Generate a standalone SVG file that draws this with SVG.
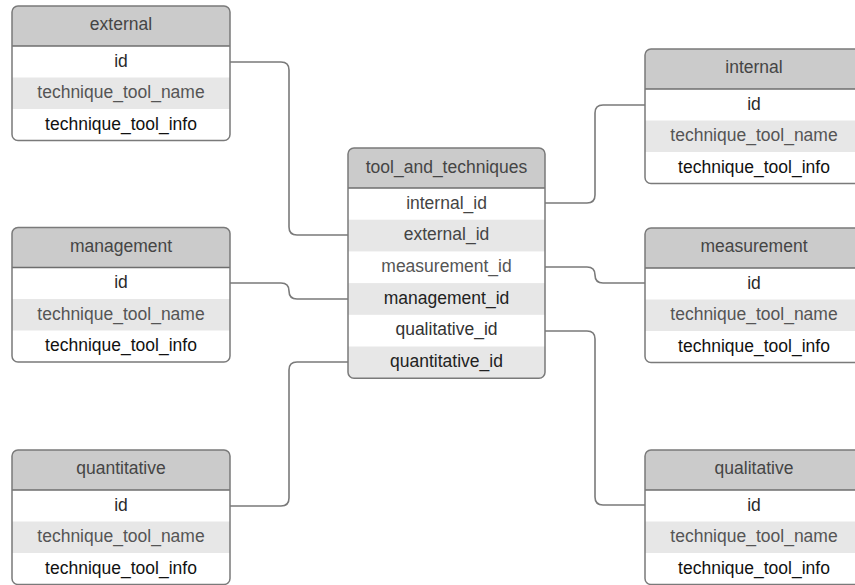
<svg xmlns="http://www.w3.org/2000/svg" width="855" height="585" viewBox="0 0 855 585">
  <style>
    text { font-family: "Liberation Sans", Arial, sans-serif; font-size: 17.5px; text-anchor: middle; }
    .frame { fill: none; stroke: #7a7a7a; stroke-width: 1.5; }
    .body { fill: #ffffff; }
    .head { fill: #cbcbcb; }
    .stripe { fill: #e7e7e7; }
    .sep { stroke: #6e6e6e; stroke-width: 1.5; }
    .title { fill: #454545; }
    .f-id { fill: #2a2a2a; }
    .f-name { fill: #555555; }
    .f-info { fill: #111111; }
    .link { fill: none; stroke: #7a7a7a; stroke-width: 1.6; }
  </style>
  <defs>
    <!-- generic 3-row table, 218 wide -->
    <g id="tbl3">
      <rect class="body" x="0" y="0" width="218" height="134.5" rx="6"/>
      <path class="head" d="M0,40 V6 A6,6 0 0 1 6,0 H212 A6,6 0 0 1 218,6 V40 Z"/>
      <rect class="stripe" x="0" y="71.5" width="218" height="31.5"/>
      <line class="sep" x1="0" y1="40" x2="218" y2="40"/>
      <rect class="frame" x="0" y="0" width="218" height="134.5" rx="6"/>
      <text class="f-id" x="109" y="60.5">id</text>
      <text class="f-name" x="109" y="92">technique_tool_name</text>
      <text class="f-info" x="109" y="123.5">technique_tool_info</text>
    </g>
  </defs>

  <!-- connectors -->
  <g id="connectors">
    <path class="link" d="M230,62 H281 Q289,62 289,70 V227 Q289,235 297,235 H348"/>
    <path class="link" d="M230,283 H281 Q289,283 289,291 Q289,299 297,299 H348"/>
    <path class="link" d="M230,506 H281 Q289,506 289,498 V370 Q289,362 297,362 H348"/>
    <path class="link" d="M545,203 H587 Q595,203 595,195 V113 Q595,105 603,105 H645"/>
    <path class="link" d="M545,267 H587 Q595,267 595,275 Q595,283 603,283 H645"/>
    <path class="link" d="M545,331 H587 Q595,331 595,339 V497 Q595,505 603,505 H645"/>
  </g>

  <g id="external" transform="translate(12,6)">
    <use href="#tbl3"/>
    <text class="title" x="109" y="24">external</text>
  </g>

  <g id="management" transform="translate(12,227.5)">
    <use href="#tbl3"/>
    <text class="title" x="109" y="24">management</text>
  </g>

  <g id="quantitative" transform="translate(12,450)">
    <use href="#tbl3"/>
    <text class="title" x="109" y="24">quantitative</text>
  </g>

  <g id="internal" transform="translate(645,49)">
    <use href="#tbl3"/>
    <text class="title" x="109" y="24">internal</text>
  </g>

  <g id="measurement" transform="translate(645,228)">
    <use href="#tbl3"/>
    <text class="title" x="109" y="24">measurement</text>
  </g>

  <g id="qualitative" transform="translate(645,450)">
    <use href="#tbl3"/>
    <text class="title" x="109" y="24">qualitative</text>
  </g>

  <g id="tool_and_techniques" transform="translate(348,148)">
    <rect class="body" x="0" y="0" width="197" height="230.2" rx="6"/>
    <path class="head" d="M0,40 V6 A6,6 0 0 1 6,0 H191 A6,6 0 0 1 197,6 V40 Z"/>
    <rect class="stripe" x="0" y="71.7" width="197" height="31.7"/>
    <rect class="stripe" x="0" y="135.1" width="197" height="31.7"/>
    <path class="stripe" d="M0,198.5 H197 V224.2 A6,6 0 0 1 191,230.2 H6 A6,6 0 0 1 0,224.2 Z"/>
    <line class="sep" x1="0" y1="40" x2="197" y2="40"/>
    <rect class="frame" x="0" y="0" width="197" height="230.2" rx="6"/>
    <text class="title" x="98.5" y="24.5">tool_and_techniques</text>
    <text fill="#444444" x="98.5" y="60.5">internal_id</text>
    <text fill="#444444" x="98.5" y="92.2">external_id</text>
    <text fill="#555555" x="98.5" y="123.9">measurement_id</text>
    <text fill="#222222" x="98.5" y="155.6">management_id</text>
    <text fill="#333333" x="98.5" y="187.3">qualitative_id</text>
    <text fill="#222222" x="98.5" y="219">quantitative_id</text>
  </g>
</svg>
